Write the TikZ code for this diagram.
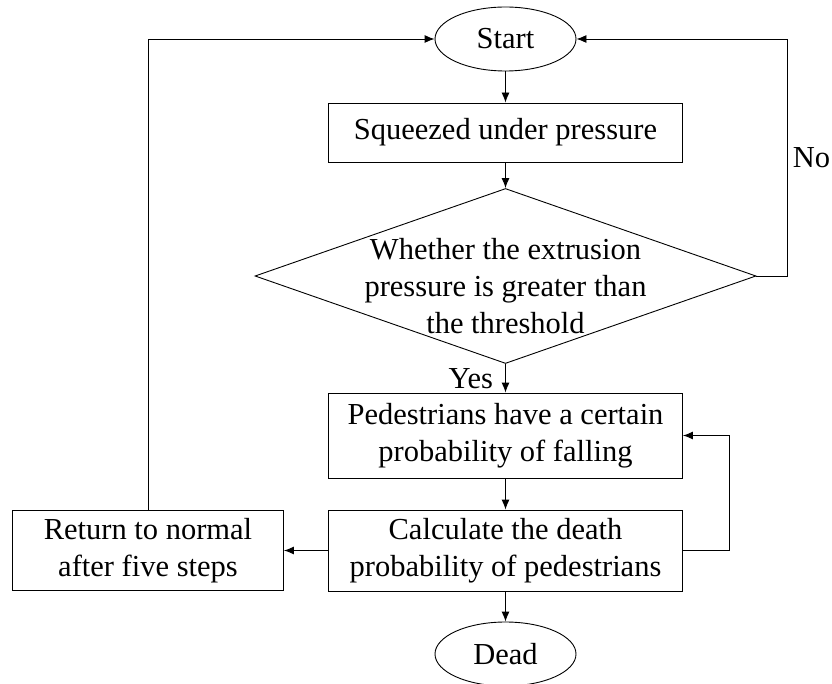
\documentclass[tikz,border=0pt]{standalone}
\usepackage{fontspec}
\setmainfont{Liberation Serif}
\usetikzlibrary{shapes.geometric, arrows.meta, positioning}
\tikzstyle{terminal} = [ellipse, draw=black, minimum width=141pt, minimum height=64pt, inner sep=0pt, text centered]
\tikzstyle{process} = [rectangle, draw=black, minimum width=354pt, text centered, align=center, inner sep=0pt]
\tikzstyle{decision} = [diamond, draw=black, minimum width=501pt, minimum height=175pt, inner sep=0pt]
\tikzstyle{arrow} = [->, >={Latex[length=10pt, width=8pt]}]

\begin{document}
\begin{tikzpicture}[x=1pt, y=-1pt, line width=0.9pt, font=\fontsize{30.5}{36.6}\selectfont]
    \useasboundingbox (0,0) rectangle (832,684);

    \node (start) [terminal] at (505.5,39) {Start};
    \node (squeeze) [process, minimum height=59pt, below of=start, node distance=93.5pt] {Squeezed under pressure};
    \node (decide) [decision, below of=squeeze, node distance=143.5pt] {};
    \node (decidetext) [align=center, yshift=-10pt] at (decide) {Whether the extrusion\\pressure is greater than\\the threshold};
    \node (fall) [process, minimum height=85pt, below of=decide, node distance=159.5pt] {Pedestrians have a certain\\probability of falling};
    \node (calc) [process, minimum height=81pt, below of=fall, node distance=115pt] {Calculate the death\\probability of pedestrians};
    \node (back) [process, minimum width=271pt, minimum height=80pt, left of=calc, node distance=357.5pt] {Return to normal\\after five steps};
    \node (dead) [terminal, below of=calc, node distance=103.5pt] {Dead};

    \draw [arrow] (start) -- (squeeze);
    \draw [arrow] (squeeze) -- (decide);
    \draw [arrow] (decide) -- node[left, inner sep=12pt] {Yes} (fall);
    \draw [arrow] (fall) -- (calc);
    \draw [arrow] (calc) -- (dead);
    \draw [arrow] (calc) -- (back);
    \draw [arrow] (back) |- (start);
    \draw [arrow] (decide.east) -- ++(31,0) |- node[pos=0.25, right, inner sep=5pt] {No} (start);
    \draw [arrow] (calc.east) -- ++(46,0) |- (fall);
\end{tikzpicture}
\end{document}
